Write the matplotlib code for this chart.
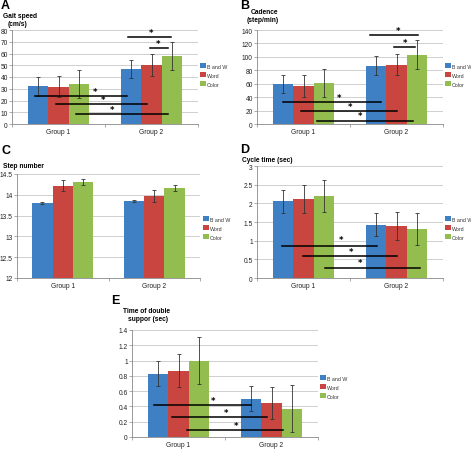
import numpy as np
import matplotlib
matplotlib.use("Agg")
import matplotlib.pyplot as plt

plt.rcParams["font.family"] = ["Liberation Sans", "DejaVu Sans"]

W, H = 471, 452

series = ["B and W", "Word", "Color"]
groups = ["Group 1", "Group 2"]
colors = ["#3f7fc4", "#c9453f", "#93bd4f"]

# values: rows = series, cols = groups
gait = [[32.2, 46.9], [31.6, 50.3], [33.9, 58.2]]
gait_err = [[8.0, 7.7], [8.9, 9.2], [11.8, 12.0]]
cadence = [[59.7, 86.5], [56.5, 88.5], [61.5, 103.0]]
cadence_err = [[13.5, 14.2], [16.0, 16.0], [21.0, 21.5]]
steps = [[13.80, 13.85], [14.22, 13.97], [14.30, 14.16]]
steps_err = [[0.03, 0.02], [0.14, 0.14], [0.07, 0.07]]
cycle = [[2.05, 1.43], [2.12, 1.39], [2.19, 1.31]]
cycle_err = [[0.31, 0.31], [0.37, 0.37], [0.43, 0.43]]
dsupp = [[0.83, 0.50], [0.87, 0.45], [1.00, 0.37]]
dsupp_err = [[0.165, 0.165], [0.21, 0.21], [0.31, 0.31]]

# significance bars: (x0, x1, y, star_x, star_y)
gait_sig = [(-0.25, 0.74, 24, 0.39, 28), (-0.03, 0.95, 17, 0.48, 21),
            (0.19, 1.18, 8.5, 0.58, 12.5), (0.75, 1.21, 74, 1.0, 78),
            (0.98, 1.18, 64.5, 1.07, 68.5)]
cadence_sig = [(-0.22, 0.83, 33, 0.38, 40), (-0.03, 1.01, 19, 0.5, 26),
               (0.14, 1.18, 5, 0.61, 12), (0.72, 1.23, 132, 1.02, 139),
               (0.97, 1.20, 115, 1.09, 122)]
cycle_sig = [(-0.235, 0.79, 0.87, 0.40, 1.03), (-0.01, 1.0, 0.58, 0.51, 0.72),
             (0.23, 1.25, 0.28, 0.61, 0.41)]
dsupp_sig = [(-0.26, 0.78, 0.414, 0.37, 0.48), (-0.07, 0.95, 0.26, 0.51, 0.315),
             (0.09, 1.12, 0.096, 0.62, 0.15)]


def fx(px):
    return px / W


def fy(py):
    return 1 - py / H


def panel(rect, vals, errs, ylim, yticks, ytlabels, sig, leg_x, leg_y):
    ax = fig.add_axes(rect)
    x = np.arange(len(groups))
    w = 0.222
    for i, s in enumerate(series):
        ax.bar(x + (i - 1) * w, np.array(vals[i]) - ylim[0], w, bottom=ylim[0],
               color=colors[i], label=s, zorder=2)
        ax.errorbar(x + (i - 1) * w, vals[i], yerr=errs[i], fmt="none",
                    ecolor="#333333", elinewidth=0.6, capsize=1.5, capthick=0.6, zorder=3)
    for x0, x1, y, sx, sy in sig:
        ax.plot([x0, x1], [y, y], color="black", lw=1.1, zorder=4)
        ax.text(sx, sy, "*", ha="center", va="center", fontsize=6,
                family="DejaVu Sans", fontweight="bold", zorder=4)
    ax.set_xlim(-0.5, 1.5)
    ax.set_ylim(*ylim)
    ax.set_yticks(yticks)
    ax.set_yticklabels(ytlabels, fontsize=4.8, color="#222222")
    ax.set_xticks(x)
    ax.set_xticklabels(groups, fontsize=4.8, color="#222222")
    ax.set_xticks([-0.5, 0.5, 1.5], minor=True)
    ax.tick_params(axis="x", which="major", length=0, pad=3)
    ax.tick_params(axis="x", which="minor", length=2, color="#888888", width=0.5)
    ax.tick_params(axis="y", length=2, color="#888888", width=0.5, pad=1)
    ax.grid(axis="y", color="#c8c8c8", lw=0.6, zorder=0)
    ax.set_axisbelow(True)
    for sp in ["top", "right"]:
        ax.spines[sp].set_visible(False)
    for sp in ["left", "bottom"]:
        ax.spines[sp].set_color("#888888")
        ax.spines[sp].set_linewidth(0.6)
    ax.legend(loc="center left", bbox_to_anchor=(fx(leg_x), fy(leg_y)),
              bbox_transform=fig.transFigure, frameon=False, fontsize=3.8,
              handlelength=1.1, handleheight=1.1, handletextpad=0.25,
              labelspacing=0.7, borderpad=0, borderaxespad=0,
              labelcolor="#333333")
    return ax


fig = plt.figure(figsize=(W / 100, H / 100), dpi=100)

panel([fx(12), fy(125), 186 / W, 94 / H], gait, gait_err, (0, 80),
      range(0, 81, 10), [str(v) for v in range(0, 81, 10)], gait_sig, 200, 76)
panel([fx(257), fy(125), 186 / W, 94 / H], cadence, cadence_err, (0, 140),
      range(0, 141, 20), [str(v) for v in range(0, 141, 20)], cadence_sig, 445, 76)
st = [12, 12.5, 13, 13.5, 14, 14.5]
panel([fx(17), fy(279), 183 / W, 104 / H], steps, steps_err, (12, 14.5),
      st, ["12", "12.5", "13", "13.5", "14", "14.5"], [], 203, 229)
ct = [0, 0.5, 1, 1.5, 2, 2.5, 3]
panel([fx(257), fy(279), 186 / W, 112 / H], cycle, cycle_err, (0, 3),
      ct, ["0", "0.5", "1", "1.5", "2", "2.5", "3"], cycle_sig, 445, 229)
dt = [0, 0.2, 0.4, 0.6, 0.8, 1.0, 1.2, 1.4]
panel([fx(132), fy(438), 186 / W, 107 / H], dsupp, dsupp_err, (0, 1.4),
      dt, ["0", "0.2", "0.4", "0.6", "0.8", "1", "1.2", "1.4"], dsupp_sig, 320, 388)

# panel letters and axis titles
for letter, px, py in [("A", 1, 6), ("B", 240, 6), ("C", 1, 151), ("D", 240, 150), ("E", 111, 301)]:
    fig.text(fx(px), fy(py), letter, fontsize=9, fontweight="bold", va="center", ha="left")

for txt, px, py in [("Gait speed", 3, 17), ("(cm/s)", 8, 25), ("Cadence", 251, 13),
                    ("(step/min)", 247, 21), ("Step number", 3, 166),
                    ("Cycle time (sec)", 242, 160), ("Time of double", 123, 312),
                    ("suppor (sec)", 128, 320)]:
    fig.text(fx(px), fy(py), txt, fontsize=4.8, fontweight="bold", va="center", ha="left")

fig.savefig("out.png", dpi=100)
